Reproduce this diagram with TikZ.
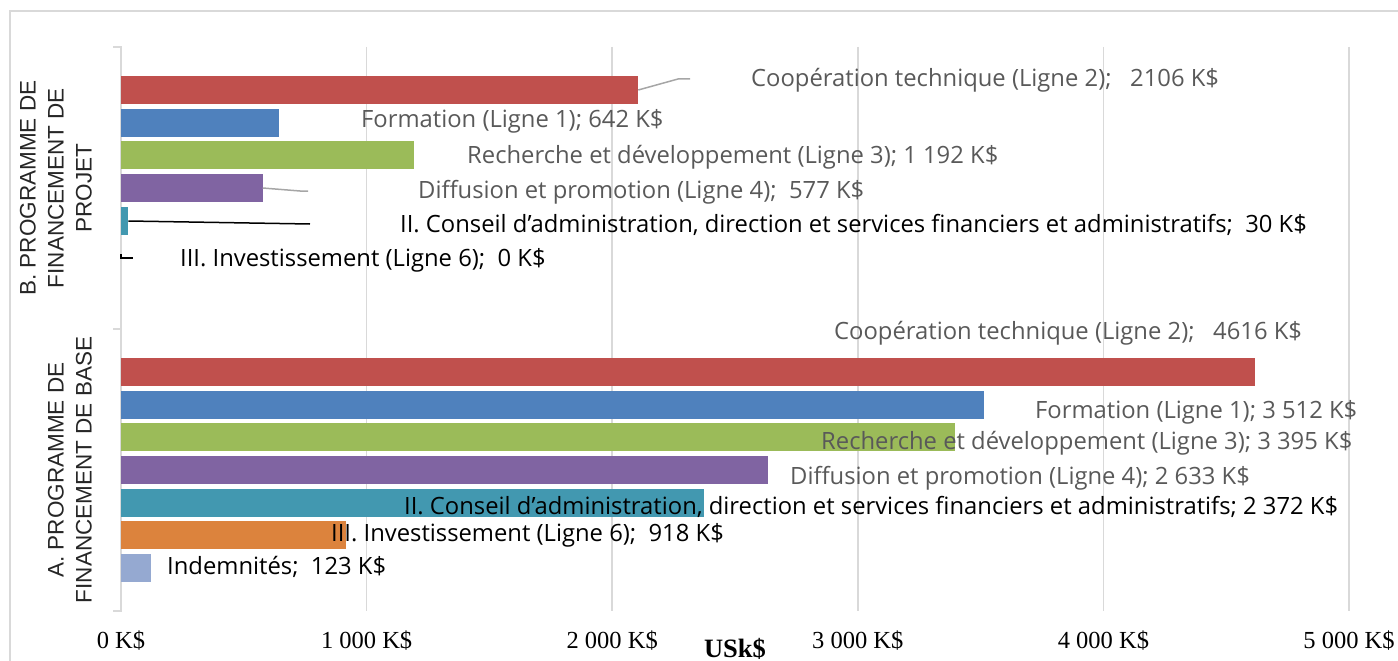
\documentclass[tikz,border=0pt]{standalone}
\usepackage{fontspec}
\setmainfont{Open Sans}
\newfontfamily\catfont{Liberation Sans}
\newfontfamily\tickfont{Liberation Serif}
\definecolor{cred}{HTML}{C0504D}
\definecolor{cblue}{HTML}{4F81BD}
\definecolor{cgreen}{HTML}{9BBB59}
\definecolor{cpurple}{HTML}{8064A2}
\definecolor{cteal}{HTML}{4298B0}
\definecolor{corange}{HTML}{DC833D}
\definecolor{clight}{HTML}{95A9D1}
\definecolor{cgrid}{HTML}{D9D9D9}
\definecolor{cgraytxt}{HTML}{595959}
\definecolor{cleader}{HTML}{A6A6A6}
\definecolor{ccat}{HTML}{262626}
\begin{document}
\begin{tikzpicture}[x=1pt,y=-1pt,
  bar/.style={anchor=north west, inner sep=0pt, outer sep=0pt, minimum height=28pt, draw=none},
  lbl/.style={anchor=base west, inner sep=0pt, font=\fontsize{23.8}{27}\selectfont},
  glbl/.style={lbl, text=cgraytxt},
  blbl/.style={lbl, text=black},
  grid/.style={draw=cgrid, line width=1.5pt},
  tick/.style={anchor=center, inner sep=0pt, font=\tickfont\fontsize{24.5}{28}\selectfont},
  cat/.style={rotate=90, anchor=center, align=center, inner sep=0pt, text=ccat, font=\catfont\fontsize{22.5}{28}\selectfont},
  gleader/.style={draw=cleader, line width=1.5pt},
  bleader/.style={draw=black, line width=1.5pt}
]
\useasboundingbox (0,0) rectangle (1398,661);
% frame
\draw[cgrid, line width=1.5pt] (10,661) -- (10,11) -- (1398,11);
% gridlines
\foreach \v in {1000,2000,3000,4000,5000}{
  \draw[grid] ({121+0.2456*\v},47) -- ({121+0.2456*\v},611);
}
% category axis
\draw[grid] (113,47) -- (121,47) -- (121,611) -- (113,611);
\draw[grid] (113,329) -- (121,329);

% group B bars
\node[bar, fill=cred,    minimum width=0.2456*2106] (bB1) at (121,76) {};
\node[bar, fill=cblue,   minimum width=0.2456*642]  (bB2) at (121,109) {};
\node[bar, fill=cgreen,  minimum width=0.2456*1192] (bB3) at (121,141) {};
\node[bar, fill=cpurple, minimum width=0.2456*577]  (bB4) at (121,174) {};
\node[bar, fill=cteal,   minimum width=0.2456*30]   (bB5) at (121,207) {};
\coordinate (bB6) at (121,254);

% group A bars
\node[bar, fill=cred,    minimum width=0.2456*4616] (bA1) at (121,358) {};
\node[bar, fill=cblue,   minimum width=0.2456*3512] (bA2) at (121,391) {};
\node[bar, fill=cgreen,  minimum width=0.2456*3395] (bA3) at (121,423) {};
\node[bar, fill=cpurple, minimum width=0.2456*2633] (bA4) at (121,456) {};
\node[bar, fill=cteal,   minimum width=0.2456*2372] (bA5) at (121,489) {};
\node[bar, fill=corange, minimum width=0.2456*918]  (bA6) at (121,521) {};
\node[bar, fill=clight,  minimum width=0.2456*123]  (bA7) at (121,554) {};

% leaders group B
\coordinate (lB1) at (690,79);
\coordinate (lB4) at (308,191);
\coordinate (lB5) at (310,224);
\coordinate (lB6) at (133,258);
\draw[gleader] (bB1.east) -- (678,79) -- (lB1);
\draw[gleader] (bB4.east) -- (300,191) -- (lB4);
\draw[bleader] (bB5.east) -- (lB5);
\draw[bleader] (bB6) -- (121,258) -- (lB6);

% labels group B
\node[glbl] (tB1) at (751,87) {Coopération technique (Ligne 2);\ \ \ 2106 K\$};
\node[glbl] (tB2) at (361,127) {Formation (Ligne 1); 642 K\$};
\node[glbl] (tB3) at (467,163) {Recherche et développement (Ligne 3); 1 192 K\$};
\node[glbl] (tB4) at (418,198) {Diffusion et promotion (Ligne 4);\ \ 577 K\$};
\node[blbl] (tB5) at (400,232) {II. Conseil d’administration, direction et services financiers et administratifs;\ \ 30 K\$};
\node[blbl] (tB6) at (180,266) {III. Investissement (Ligne 6);\ \ 0 K\$};

% labels group A
\node[glbl] (tA1) at (834,339) {Coopération technique (Ligne 2);\ \ \ 4616 K\$};
\node[glbl] (tA2) at (1035,418) {Formation (Ligne 1); 3 512 K\$};
\node[glbl] (tA3) at (821,449) {Recherche et développement (Ligne 3); 3 395 K\$};
\node[glbl] (tA4) at (790,484) {Diffusion et promotion (Ligne 4); 2 633 K\$};
\node[blbl] (tA5) at (404,514) {II. Conseil d’administration, direction et services financiers et administratifs; 2 372 K\$};
\node[blbl] (tA6) at (331,541) {III. Investissement (Ligne 6);\ \ 918 K\$};
\node[blbl] (tA7) at (167,574) {Indemnités;\ \ 123 K\$};

% category labels
\node[cat] (catB) at (56,188) {B. PROGRAMME DE\\FINANCEMENT DE\\PROJET};
\node[cat] (catA) at (70,470) {A. PROGRAMME DE\\FINANCEMENT DE BASE};

% tick labels
\foreach \v/\t in {0/0 K\$,1000/1 000 K\$,2000/2 000 K\$,3000/3 000 K\$,4000/4 000 K\$,5000/5 000 K\$}{
  \node[tick] at ({121+0.2456*\v},641) {\t};
}
\node[anchor=center, inner sep=0pt, font=\tickfont\bfseries\fontsize{26.5}{30}\selectfont] (xtitle) at (735,649) {USk\$};
\end{tikzpicture}
\end{document}
